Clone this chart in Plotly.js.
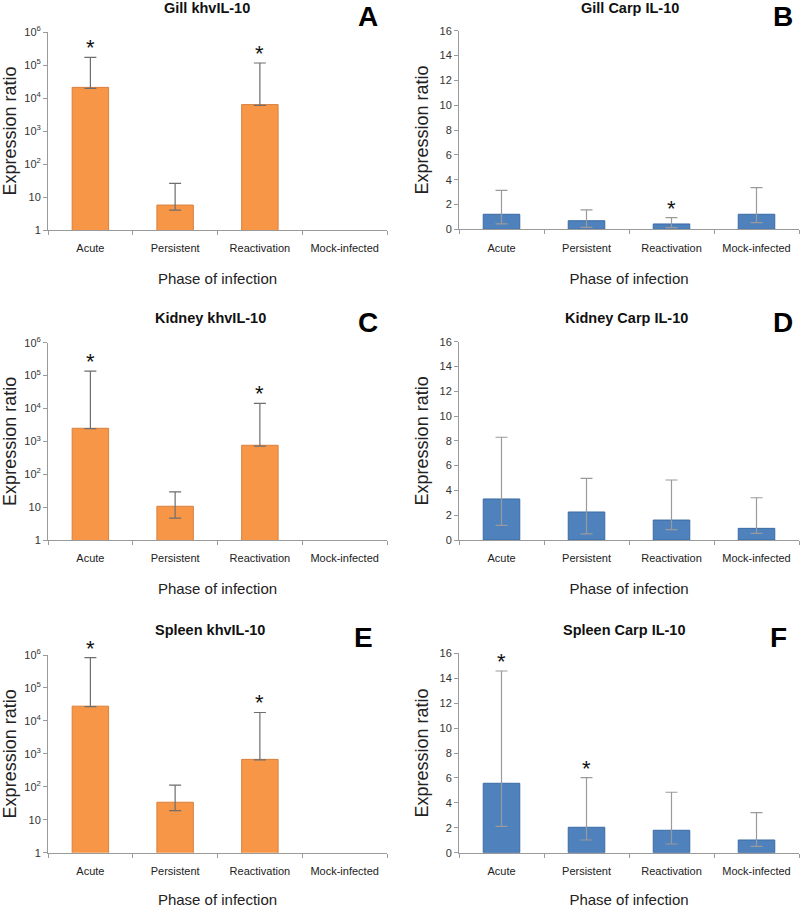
<!DOCTYPE html>
<html>
<head>
<meta charset="utf-8">
<script src="https://cdn.plot.ly/plotly-3.0.1.min.js"></script>
<style>html,body{margin:0;padding:0;background:#fff;}#chart{width:800px;height:908px;}</style>
</head>
<body>
<div id="chart"></div>
<script>
// ---- Data ----
const categories = ["Acute", "Persistent", "Reactivation", "Mock-infected"];

// Left column (khvIL-10, log scale)
const gillKhvMean  = [21000, 5.7, 6300, null];
const gillKhvUp    = [170000, 26, 115000, null];
const gillKhvLow   = [19600, 4.0, 6000, null];
const gillKhvStar  = [true, false, true, false];

const kidneyKhvMean = [2500, 10.6, 760, null];
const kidneyKhvUp   = [137000, 29, 14200, null];
const kidneyKhvLow  = [2450, 4.6, 720, null];
const kidneyKhvStar = [true, false, true, false];

const spleenKhvMean = [28000, 34, 680, null];
const spleenKhvUp   = [830000, 113, 18000, null];
const spleenKhvLow  = [27000, 18.8, 660, null];
const spleenKhvStar = [true, false, true, false];

// Right column (Carp IL-10, linear scale)
const gillCarpMean = [1.21, 0.69, 0.43, 1.21];
const gillCarpUp   = [3.14, 1.56, 0.94, 3.35];
const gillCarpLow  = [0.43, 0.16, 0.13, 0.53];
const gillCarpStar = [false, false, true, false];

const kidneyCarpMean = [3.31, 2.26, 1.61, 0.94];
const kidneyCarpUp   = [8.29, 4.98, 4.84, 3.41];
const kidneyCarpLow  = [1.18, 0.50, 0.83, 0.54];
const kidneyCarpStar = [false, false, false, false];

const spleenCarpMean = [5.57, 2.04, 1.80, 1.02];
const spleenCarpUp   = [14.58, 6.02, 4.85, 3.21];
const spleenCarpLow  = [2.12, 1.02, 0.70, 0.51];
const spleenCarpStar = [true, true, false, false];

const logTickVals = [1, 10, 100, 1000, 10000, 100000, 1000000];
const logTickText = ["1", "10", "10<sup>2</sup>", "10<sup>3</sup>", "10<sup>4</sup>", "10<sup>5</sup>", "10<sup>6</sup>"];
const linTickVals = [0, 2, 4, 6, 8, 10, 12, 14, 16];

const panelTitles = ["Gill khvIL-10", "Gill Carp IL-10", "Kidney khvIL-10", "Kidney Carp IL-10", "Spleen khvIL-10", "Spleen Carp IL-10"];
const panelLetters = ["A", "B", "C", "D", "E", "F"];

// ---- Build ----
const H = 908, W = 800;
const py = v => 1 - v / H;
const px = v => v / W;

const panels = [
  {mean: gillKhvMean, up: gillKhvUp, low: gillKhvLow, star: gillKhvStar, log: true,  x: [48, 387], y: [32, 230]},
  {mean: gillCarpMean, up: gillCarpUp, low: gillCarpLow, star: gillCarpStar, log: false, x: [459, 799], y: [30.7, 229.3]},
  {mean: kidneyKhvMean, up: kidneyKhvUp, low: kidneyKhvLow, star: kidneyKhvStar, log: true, x: [48, 387], y: [342.7, 540]},
  {mean: kidneyCarpMean, up: kidneyCarpUp, low: kidneyCarpLow, star: kidneyCarpStar, log: false, x: [459, 799], y: [341.7, 540]},
  {mean: spleenKhvMean, up: spleenKhvUp, low: spleenKhvLow, star: spleenKhvStar, log: true, x: [48, 387], y: [655, 852.7]},
  {mean: spleenCarpMean, up: spleenCarpUp, low: spleenCarpLow, star: spleenCarpStar, log: false, x: [459, 799], y: [653.3, 852.7]}
];

const titlePos = [[207, 8], [630, 8], [210, 318], [626, 318], [210, 630], [624, 630]];
const letterPos = [[368, 16], [783, 16], [368, 323], [783, 323], [363, 637], [778, 637]];

const FONT = "Liberation Sans, Arial, sans-serif";
const data = [];
const layout = {
  width: W, height: H,
  margin: {l: 0, r: 0, t: 0, b: 0},
  paper_bgcolor: "#fff", plot_bgcolor: "#fff",
  showlegend: false,
  font: {family: FONT, color: "#222"},
  annotations: []
};

panels.forEach((p, i) => {
  const n = i + 1;
  const xa = "x" + (n === 1 ? "" : n), ya = "y" + (n === 1 ? "" : n);
  const xk = "xaxis" + (n === 1 ? "" : n), yk = "yaxis" + (n === 1 ? "" : n);
  const errUp = p.mean.map((m, k) => m == null ? null : p.up[k] - m);
  const errLow = p.mean.map((m, k) => m == null ? null : m - p.low[k]);
  data.push({
    type: "bar", x: categories, y: p.mean, xaxis: xa, yaxis: ya,
    width: 0.43,
    marker: {color: p.log ? "#F79646" : "#4F81BD", line: {color: p.log ? "#D9803E" : "#3A6BA5", width: 1}},
    error_y: {type: "data", symmetric: false, array: errUp, arrayminus: errLow,
      color: p.log ? "#6E6E6E" : "#9A9A9A", thickness: 1.2, width: 6},
    hoverinfo: "skip"
  });
  layout[xk] = {
    domain: [px(p.x[0]), px(p.x[1])], anchor: ya,
    type: "category", range: [-0.5, 3.5],
    showline: true, linecolor: "#9a9a9a", linewidth: 1,
    ticks: "outside", tickson: "boundaries", ticklen: 4, tickcolor: "#9a9a9a",
    ticklabelstandoff: 8,
    showgrid: false, zeroline: false,
    tickfont: {family: FONT, size: 11, color: "#222"},
    title: {text: "Phase of infection", font: {family: FONT, size: 15, color: "#222"}, standoff: 20},
    automargin: false, fixedrange: true
  };
  const yax = {
    domain: [py(p.y[1]), py(p.y[0])], anchor: xa,
    showline: true, linecolor: "#9a9a9a", linewidth: 1,
    ticks: "outside", ticklen: 4, tickcolor: "#9a9a9a",
    showgrid: false, zeroline: false,
    tickfont: {family: FONT, size: 11, color: "#333"},
    title: {text: "Expression ratio", font: {family: FONT, size: 18, color: "#222"}, standoff: 6},
    automargin: false, fixedrange: true
  };
  if (p.log) {
    Object.assign(yax, {type: "log", range: [0, 6], tickvals: logTickVals, ticktext: logTickText});
  } else {
    Object.assign(yax, {type: "linear", range: [0, 16], tickvals: linTickVals});
  }
  layout[yk] = yax;

  // significance asterisks
  p.star.forEach((s, k) => {
    if (!s) return;
    const yv = p.log ? Math.log10(p.up[k]) : p.up[k];
    layout.annotations.push({
      xref: xa, yref: ya, x: categories[k], y: yv, text: "*", showarrow: false,
      yanchor: "bottom", yshift: -5, font: {family: FONT, size: 22, color: "#111"}
    });
  });

  layout.annotations.push({
    xref: "paper", yref: "paper", x: px(titlePos[i][0]), y: py(titlePos[i][1]),
    text: "<b>" + panelTitles[i] + "</b>", showarrow: false, xanchor: "center", yanchor: "middle",
    font: {family: FONT, size: 14.5, color: "#111"}
  });
  layout.annotations.push({
    xref: "paper", yref: "paper", x: px(letterPos[i][0]), y: py(letterPos[i][1]),
    text: "<b>" + panelLetters[i] + "</b>", showarrow: false, xanchor: "center", yanchor: "middle",
    font: {family: FONT, size: 28, color: "#000"}
  });
});

Plotly.newPlot("chart", data, layout, {displayModeBar: false, staticPlot: true});
</script>
</body>
</html>
